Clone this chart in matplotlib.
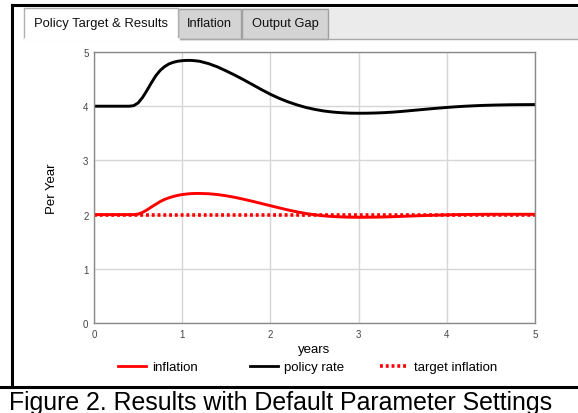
import matplotlib
matplotlib.use('Agg')
import matplotlib.pyplot as plt
from matplotlib.patches import Rectangle
from matplotlib.lines import Line2D

plt.rcParams['font.family'] = ['Liberation Sans', 'DejaVu Sans']

# ---------------- data ----------------
years = [0.0, 0.1, 0.2, 0.3, 0.4,
         0.45, 0.5, 0.55, 0.6, 0.65, 0.7, 0.75, 0.8, 0.85, 0.9, 0.95, 1.0, 1.05, 1.1, 1.15,
         1.2, 1.3, 1.4, 1.5, 1.6, 1.7, 1.8, 1.9,
         2.0, 2.1, 2.2, 2.3, 2.4, 2.5, 2.6, 2.7, 2.8, 2.9,
         3.0, 3.1, 3.2, 3.3, 3.4, 3.5, 3.6, 3.7, 3.8, 3.9,
         4.0, 4.1, 4.2, 4.3, 4.4, 4.5, 4.6, 4.7, 4.8, 4.9, 5.0]

policy_rate = [4.0, 4.0, 4.0, 4.0, 4.0,
               4.01, 4.06, 4.16, 4.29, 4.43, 4.56, 4.66, 4.73, 4.78, 4.81, 4.83, 4.84, 4.845, 4.845, 4.838,
               4.828, 4.785, 4.725, 4.65, 4.57, 4.485, 4.395, 4.305,
               4.22, 4.145, 4.08, 4.025, 3.978, 3.942, 3.913, 3.893, 3.88, 3.872,
               3.87, 3.871, 3.875, 3.882, 3.892, 3.905, 3.92, 3.935, 3.95, 3.964,
               3.977, 3.989, 3.999, 4.007, 4.014, 4.019, 4.023, 4.026, 4.028, 4.029, 4.03]

inflation = [2.0, 2.0, 2.0, 2.0, 2.0,
             2.0, 2.01, 2.04, 2.085, 2.14, 2.19, 2.24, 2.28, 2.31, 2.335, 2.355, 2.37, 2.38, 2.387, 2.39,
             2.39, 2.385, 2.37, 2.347, 2.317, 2.282, 2.244, 2.204,
             2.164, 2.124, 2.086, 2.051, 2.021, 1.997, 1.978, 1.965, 1.957, 1.952,
             1.95, 1.951, 1.953, 1.957, 1.962, 1.968, 1.974, 1.98, 1.986, 1.991,
             1.995, 1.999, 2.002, 2.004, 2.005, 2.006, 2.006, 2.006, 2.006, 2.006, 2.006]

target_inflation = [2.0] * len(years)

x_ticks = [0, 1, 2, 3, 4, 5]
y_ticks = [0, 1, 2, 3, 4, 5]
tab_labels = ["Policy Target & Results", "Inflation", "Output Gap"]
legend_labels = ['inflation', 'policy rate', 'target inflation']
caption = "Figure 2. Results with Default Parameter Settings"

# ---------------- figure ----------------
W, H = 578, 414
fig = plt.figure(figsize=(W / 100, H / 100), dpi=100)

# overlay for frame, tabs, caption (pixel coordinates)
ov = fig.add_axes([0, 0, 1, 1])
ov.set_xlim(0, W)
ov.set_ylim(H, 0)
ov.axis('off')

# tab bar background
ov.add_patch(Rectangle((178, 9), W - 178, 31, facecolor='#ebebeb', edgecolor='none'))
ov.plot([178, W], [40, 40], color='#a8a8a8', lw=1)
# inactive tabs
for (x0, x1), lab in zip([(178, 241), (242, 328)], tab_labels[1:]):
    ov.add_patch(Rectangle((x0, 10), x1 - x0, 30, facecolor='#d4d4d4',
                           edgecolor='#a0a0a0', lw=1))
    ov.text((x0 + x1) / 2, 24, lab, ha='center', va='center', fontsize=9.3, color='#111111')
# active tab
ov.add_patch(Rectangle((24, 9), 154, 31, facecolor='white', edgecolor='#b0b0b0', lw=1))
ov.plot([24.5, 177.5], [40, 40], color='white', lw=2)
ov.text(101, 24, tab_labels[0], ha='center', va='center', fontsize=9.4, color='#111111')

# black frame lines
ov.plot([12, 12], [6, 388], color='black', lw=2.2)
ov.plot([12, W], [6, 6], color='black', lw=2.2)
ov.plot([0, W], [388.5, 388.5], color='black', lw=2.2)

ov.text(280.5, 403, caption, ha='center', va='center', fontsize=17.9, color='black')

# ---------------- main axes ----------------
ax = fig.add_axes([94 / W, 1 - 324 / H, (535 - 94) / W, (324 - 53) / H])
ax.set_xlim(0, 5)
ax.set_ylim(0, 5)
ax.set_xticks(x_ticks)
ax.set_yticks(y_ticks)
ax.grid(True, color='#d6d6d6', lw=1)
ax.set_axisbelow(True)
for s in ax.spines.values():
    s.set_color('#8a8a8a')
    s.set_linewidth(1)
ax.tick_params(length=0, labelsize=7, colors='#444444', pad=4)

ax.plot(years, policy_rate, color='black', lw=2.1, label='policy rate')
ax.plot(years, inflation, color='#ff0000', lw=2.1, label='inflation')
ax.plot(years, target_inflation, color='#ff0000', lw=2.6, linestyle=(0, (0.8, 0.8)),
        label='target inflation')

ax.set_xlabel('years', fontsize=9.5, labelpad=3)
ax.set_ylabel('Per Year', fontsize=9.5, labelpad=18)

handles = [Line2D([], [], color='#ff0000', lw=2),
           Line2D([], [], color='black', lw=2),
           Line2D([], [], color='#ff0000', lw=2.6, linestyle=(0, (0.8, 0.8)))]
legend_x = [118, 250, 380]
for h, lab, xs in zip(handles, legend_labels, legend_x):
    fig.legend([h], [lab], loc='center left', bbox_to_anchor=(xs / W, 1 - 368 / H),
               frameon=False, fontsize=9.5, handlelength=2.1, handletextpad=0.45,
               borderpad=0, borderaxespad=0)

fig.savefig('out.png', dpi=100)
